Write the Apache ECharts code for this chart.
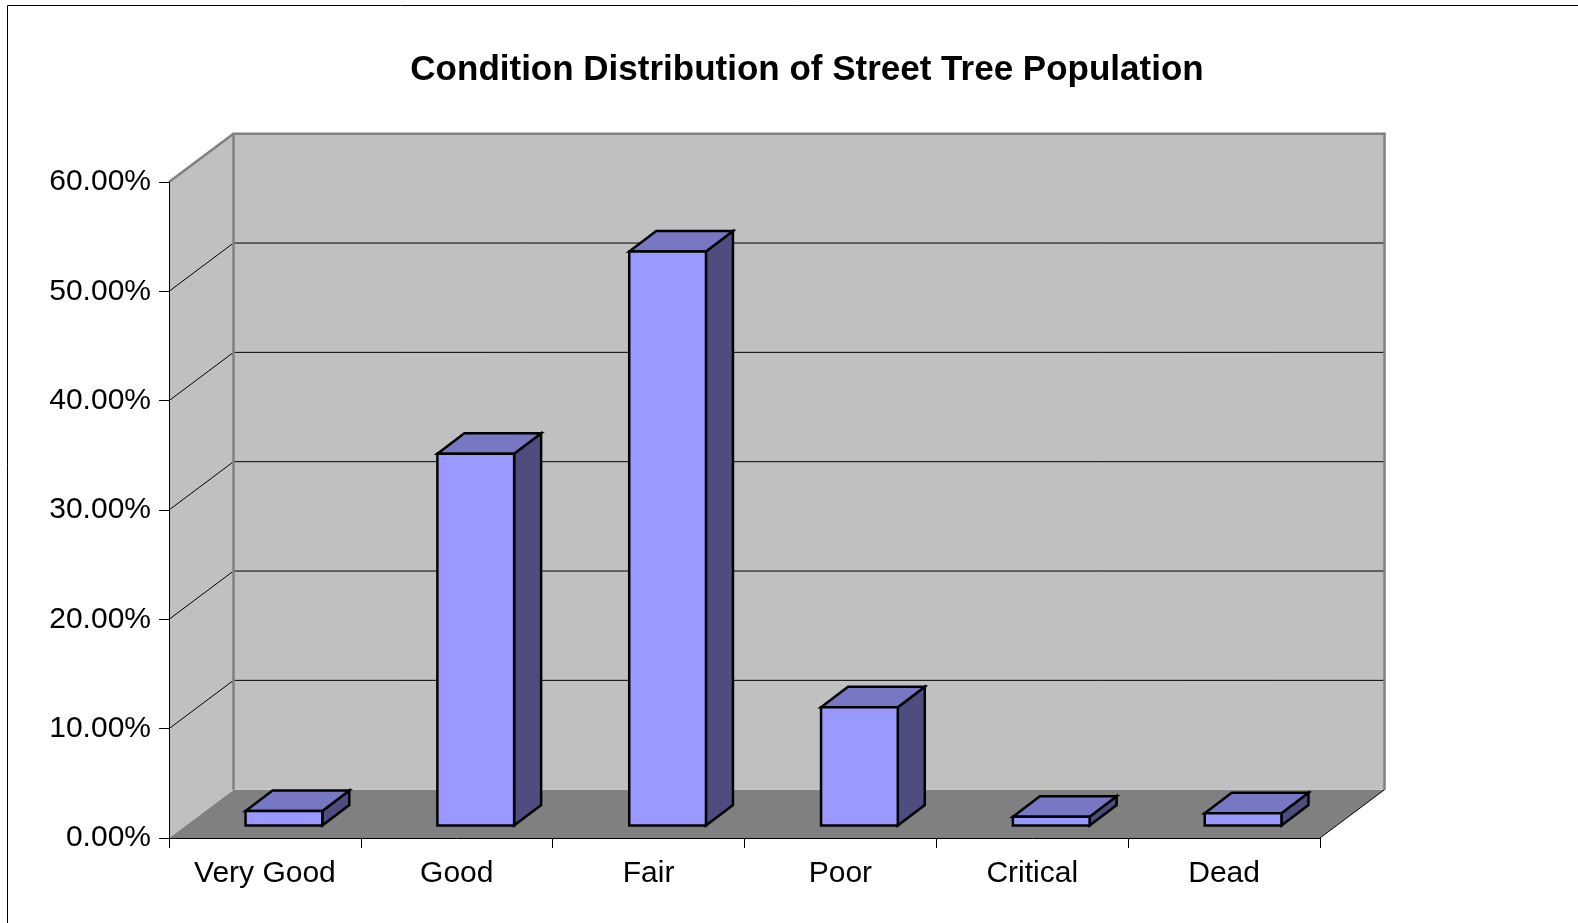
<!DOCTYPE html>
<html><head><meta charset="utf-8">
<script src="https://cdn.jsdelivr.net/npm/echarts@6/dist/echarts.min.js"></script>
<style>html,body{margin:0;padding:0;background:#fff}#chart{width:1578px;height:923px}</style>
</head><body><div id="chart"></div>
<script>
const chartTitle = 'Condition Distribution of Street Tree Population';
const categories = ['Very Good', 'Good', 'Fair', 'Poor', 'Critical', 'Dead'];
const values = [0.0134, 0.3400, 0.5250, 0.1082, 0.0082, 0.0113];
const yTicks = [0, 0.1, 0.2, 0.3, 0.4, 0.5, 0.6];

const FONT = '"Liberation Sans", Arial, Helvetica, sans-serif';
const DX = 64.5, DY = 48.3;            // depth of the 3D box
const BAR_OFF_X = 19, BAR_OFF_Y = 12.4; // bar front-face offset into depth
const BAR_DX = 27, BAR_DY = 20.5;       // bar depth
const BAR_W = 0.4;                      // bar width as fraction of category

function renderWalls(params, api) {
  const cs = params.coordSys;
  const x0 = cs.x, x1 = cs.x + cs.width;
  const yTop = api.coord([0, yTicks[yTicks.length - 1]])[1];
  const yBot = api.coord([0, yTicks[0]])[1];
  const ch = [];
  ch.push({type: 'polygon', shape: {points: [[x0, yBot], [x1, yBot], [x1 + DX, yBot - DY], [x0 + DX, yBot - DY]]}, style: {fill: '#808080'}});
  ch.push({type: 'polygon', shape: {points: [[x0, yBot], [x0, yTop], [x0 + DX, yTop - DY], [x0 + DX, yBot - DY]]}, style: {fill: '#C0C0C0'}});
  ch.push({type: 'rect', shape: {x: x0 + DX, y: yTop - DY, width: cs.width, height: yBot - yTop}, style: {fill: '#C0C0C0'}});
  yTicks.slice(1, -1).forEach(v => {
    const y = api.coord([0, v])[1];
    ch.push({type: 'polyline', shape: {points: [[x0, y], [x0 + DX, y - DY], [x1 + DX, y - DY]]}, style: {stroke: '#000', lineWidth: 1, fill: null}});
  });
  ch.push({type: 'polyline', shape: {points: [[x0, yTop], [x0 + DX, yTop - DY], [x1 + DX, yTop - DY], [x1 + DX, yBot - DY]]}, style: {stroke: '#808080', lineWidth: 2.5, fill: null}});
  ch.push({type: 'line', shape: {x1: x0 + DX, y1: yTop - DY, x2: x0 + DX, y2: yBot - DY}, style: {stroke: '#808080', lineWidth: 2.5}});
  ch.push({type: 'line', shape: {x1: x1, y1: yBot, x2: x1 + DX, y2: yBot - DY}, style: {stroke: '#000', lineWidth: 1}});
  return {type: 'group', children: ch};
}

function renderBar(params, api) {
  const idx = api.value(0), v = api.value(1);
  const base = api.coord([idx, 0]);
  const top = api.coord([idx, v]);
  const w = api.size([1, 0])[0] * BAR_W;
  const xl = base[0] - w / 2 + BAR_OFF_X, xr = xl + w;
  const yb = base[1] - BAR_OFF_Y, yt = top[1] - BAR_OFF_Y;
  const st = {stroke: '#000', lineWidth: 2.5, lineJoin: 'miter'};
  return {type: 'group', children: [
    {type: 'polygon', shape: {points: [[xr, yt], [xr + BAR_DX, yt - BAR_DY], [xr + BAR_DX, yb - BAR_DY], [xr, yb]]}, style: Object.assign({}, st, {fill: '#4D4D80'})},
    {type: 'polygon', shape: {points: [[xl, yt], [xr, yt], [xr + BAR_DX, yt - BAR_DY], [xl + BAR_DX, yt - BAR_DY]]}, style: Object.assign({}, st, {fill: '#7777C4'})},
    {type: 'rect', shape: {x: xl, y: yt, width: w, height: yb - yt}, style: Object.assign({}, st, {fill: '#9999FF'})}
  ]};
}

const chart = echarts.init(document.getElementById('chart'), null, {renderer: 'canvas'});
chart.setOption({
  animation: false,
  backgroundColor: '#fff',
  graphic: [
    {type: 'rect', z: 0, shape: {x: 7.5, y: 5.5, width: 2000, height: 2000}, style: {fill: null, stroke: '#000', lineWidth: 1}},
    {type: 'text', z: 10, x: 807, y: 70, style: {text: chartTitle, font: 'bold 35px ' + FONT, fill: '#000', textAlign: 'center', textVerticalAlign: 'middle'}}
  ],
  grid: {left: 169, top: 182, width: 1151, height: 656, containLabel: false},
  xAxis: {
    type: 'category', data: categories, z: 5,
    axisLine: {show: true, lineStyle: {color: '#000', width: 1}},
    axisTick: {show: true, length: 10, lineStyle: {color: '#000'}},
    axisLabel: {show: true, interval: 0, margin: 21, color: '#000', fontSize: 30, fontFamily: FONT},
    splitLine: {show: false}
  },
  yAxis: {
    type: 'value', min: 0, max: 0.6, interval: 0.1, z: 5,
    axisLine: {show: true, lineStyle: {color: '#000', width: 1}},
    axisTick: {show: true, length: 10, lineStyle: {color: '#000'}},
    axisLabel: {margin: 18, color: '#000', fontSize: 30, fontFamily: FONT, formatter: v => (v * 100).toFixed(2) + '%'},
    splitLine: {show: false}
  },
  series: [
    {type: 'custom', name: 'walls', z: 1, silent: true, renderItem: renderWalls, data: [[0, 0]], encode: {x: 0, y: 1}},
    {type: 'custom', name: 'Condition', z: 2, renderItem: renderBar, data: values.map((v, i) => [i, v]), encode: {x: 0, y: 1}}
  ]
});
</script>
</body></html>
